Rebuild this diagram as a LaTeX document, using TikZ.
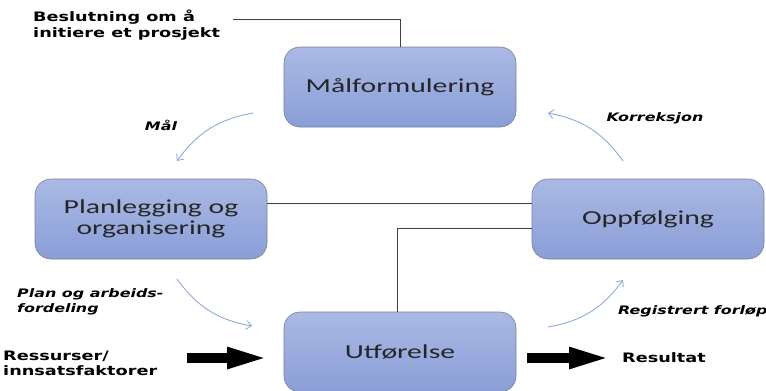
\documentclass[tikz,border=0pt]{standalone}
\usepackage{fontspec}
\setmainfont{Carlito}
\newfontfamily\boxfont{Carlito}[FakeStretch=1.5]
\newfontfamily\lblfont{DejaVu Sans}[FakeStretch=1.36]
\usetikzlibrary{arrows.meta}
\definecolor{boxtop}{RGB}{170,185,228}
\definecolor{boxbot}{RGB}{138,158,215}
\definecolor{boxline}{RGB}{120,130,150}
\definecolor{cycblue}{RGB}{142,170,220}
\tikzset{
  stepbox/.style={draw=boxline, line width=0.6pt, top color=boxtop, bottom color=boxbot,
    minimum width=232pt, minimum height=80pt, rounded corners=16pt, inner sep=0pt,
    align=center, text=black!85, font=\boxfont\fontsize{19.8}{21}\selectfont},
  lbl/.style={inner sep=0pt, align=left, font=\lblfont\bfseries\fontsize{13}{16}\selectfont},
  ilbl/.style={inner sep=0pt, align=left, font=\lblfont\bfseries\itshape\fontsize{11.7}{14.5}\selectfont},
  cyc/.style={draw=cycblue, line width=0.9pt, -{Straight Barb[length=5pt,width=9pt]}},
  link/.style={draw=black!75, line width=0.7pt},
  blockarrow/.style={draw=black, line width=10pt, -{Triangle[length=43pt,width=19pt]}}
}
\begin{document}
\begin{tikzpicture}[x=1pt,y=-1pt]
\useasboundingbox (0,0) rectangle (766,391);
% boxes
\node[stepbox] (mal) at (400,87) {Målformulering};
\node[stepbox] (plan) at (151,219) {Planlegging og\\organisering};
\node[stepbox] (oppf) at (648,219) {Oppfølging};
\node[stepbox] (utf) at (400,352) {Utførelse};
% labels
\node[lbl, anchor=west] (besl) at (33,25) {Beslutning om å\\initiere et prosjekt};
\node[ilbl] (lmal) at (161,125) {Mål};
\node[ilbl] (lkorr) at (655,118) {Korreksjon};
\node[ilbl, anchor=west] (lplan) at (17,302) {Plan og arbeids-\\fordeling};
\node[ilbl, anchor=west] (lreg) at (618,311) {Registrert forløp};
\node[lbl, anchor=west, font=\lblfont\bfseries\fontsize{13}{15}\selectfont] (ress) at (3,363) {Ressurser/\\innsatsfaktorer};
\node[lbl, anchor=west] (res) at (622,358) {Resultat};
% link lines
\coordinate (b0) at (233,19);
\draw[link] (b0) -| (mal.north);
\draw[link] ([yshift=16pt]plan.east) -- ([yshift=16pt]oppf.west);
\draw[link] ([yshift=-9pt]oppf.west) -| ([xshift=-3pt]utf.north);
% cycle arrows
\coordinate (m1) at (253,113); \coordinate (m2) at (177,161);
\coordinate (p1) at (177,279); \coordinate (p2) at (252,326);
\coordinate (g1) at (548,327); \coordinate (g2) at (623,280);
\coordinate (k1) at (623,161); \coordinate (k2) at (548,113);
\draw[cyc] (m1) to[bend right=22] (m2);
\draw[cyc] (p1) to[bend right=22] (p2);
\draw[cyc] (g1) to[bend right=22] (g2);
\draw[cyc] (k1) to[bend right=22] (k2);
% block arrows
\coordinate (r1) at (187,358); \coordinate (r2) at (270,358);
\coordinate (s1) at (527,358); \coordinate (s2) at (612,358);
\draw[blockarrow] (r1) -- (r2);
\draw[blockarrow] (s1) -- (s2);
\end{tikzpicture}
\end{document}
